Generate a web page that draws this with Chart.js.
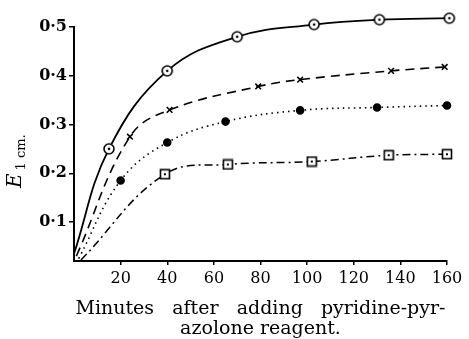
<!DOCTYPE html>
<html>
<head>
<meta charset="utf-8">
<script src="https://cdn.jsdelivr.net/npm/chart.js@4"></script>
<style>
  html, body { margin: 0; padding: 0; background: #fff; }
  canvas { display: block; }
</style>
</head>
<body>
<canvas id="myChart" width="469" height="339"></canvas>
<script>
// minutes / E values, first entry = where each curve starts
const circleX = [0, 15, 40, 70, 103, 131, 161];
const circleY = [0.035, 0.25, 0.41, 0.48, 0.505, 0.515, 0.518];
const crossX = [1, 24, 41, 79, 97, 136, 159];
const crossY = [0.03, 0.275, 0.33, 0.378, 0.392, 0.41, 0.418];
const dotX = [2, 20, 40, 65, 97, 130, 160];
const dotY = [0.025, 0.185, 0.263, 0.306, 0.329, 0.335, 0.339];
const squareX = [3, 39, 66, 102, 135, 160];
const squareY = [0.022, 0.198, 0.218, 0.224, 0.237, 0.239];

const xTicks = [20, 40, 60, 80, 100, 120, 140, 160];
const yTicks = [0.1, 0.2, 0.3, 0.4, 0.5];

const serif = '"DejaVu Serif", "Liberation Serif", serif';

function points(xs, ys) {
  return xs.map((x, i) => ({ x: x, y: ys[i] }));
}

// open circle with a dot in the middle
function ringDot() {
  const c = document.createElement('canvas');
  c.width = c.height = 14;
  const g = c.getContext('2d');
  g.fillStyle = '#fff';
  g.strokeStyle = '#000';
  g.lineWidth = 1.6;
  g.beginPath();
  g.arc(7, 7, 5, 0, 2 * Math.PI);
  g.fill();
  g.stroke();
  g.fillStyle = '#000';
  g.beginPath();
  g.arc(7, 7, 1.3, 0, 2 * Math.PI);
  g.fill();
  return c;
}

function squareDot() {
  const c = document.createElement('canvas');
  c.width = c.height = 12;
  const g = c.getContext('2d');
  g.fillStyle = '#fff';
  g.strokeStyle = '#000';
  g.lineWidth = 1.6;
  g.fillRect(1.5, 1.5, 9, 9);
  g.strokeRect(1.5, 1.5, 9, 9);
  g.fillStyle = '#000';
  g.fillRect(5, 5, 2, 2);
  return c;
}

const ringImg = ringDot();
const squareImg = squareDot();

// no marker on the starting point of each curve
const hideFirst = (r) => (ctx) => ctx.dataIndex === 0 ? 0 : r;

const yTitle = {
  id: 'yTitle',
  afterDraw(chart) {
    const c = chart.ctx;
    c.save();
    c.translate(21, 188);
    c.rotate(-Math.PI / 2);
    c.fillStyle = '#000';
    c.textBaseline = 'alphabetic';
    c.font = 'italic 20px ' + serif;
    c.fillText('E', 0, 0);
    const w = c.measureText('E').width;
    c.font = '13px ' + serif;
    c.fillText('1 cm.', w + 3, 4);
    c.restore();
  }
};

const base = {
  borderColor: '#000',
  backgroundColor: '#000',
  pointBorderColor: '#000',
  fill: false,
  clip: false,
  tension: 0.4,
  pointHoverRadius: 14,
};

const ctx = document.getElementById('myChart').getContext('2d');
const myChart = new Chart(ctx, {
  type: 'line',
  data: {
    datasets: [
      Object.assign({}, base, {
        label: 'circles',
        data: points(circleX, circleY),
        borderWidth: 1.8,
        pointStyle: ringImg,
        pointRadius: hideFirst(5),
      }),
      Object.assign({}, base, {
        label: 'crosses',
        data: points(crossX, crossY),
        borderWidth: 1.6,
        borderDash: [9, 6],
        pointStyle: 'crossRot',
        pointRadius: hideFirst(4),
        pointBorderWidth: 1.6,
      }),
      Object.assign({}, base, {
        label: 'dots',
        data: points(dotX, dotY),
        borderWidth: 1.6,
        borderDash: [1.5, 4],
        pointStyle: 'circle',
        pointRadius: hideFirst(3.5),
        pointBackgroundColor: '#000',
      }),
      Object.assign({}, base, {
        label: 'squares',
        data: points(squareX, squareY),
        borderWidth: 1.5,
        borderDash: [8, 4, 2, 4],
        pointStyle: squareImg,
        pointRadius: hideFirst(5),
      }),
    ]
  },
  options: {
    responsive: false,
    animation: false,
    devicePixelRatio: 1,
    layout: { padding: { left: 30, right: 22, top: 27, bottom: 0 } },
    plugins: {
      legend: { display: false },
      tooltip: { enabled: false },
    },
    scales: {
      x: {
        type: 'linear',
        min: 0,
        max: 160,
        afterBuildTicks: (scale) => {
          scale.ticks = xTicks.map(v => ({ value: v }));
        },
        afterFit: (scale) => { scale.height = 78; },
        border: { color: '#000', width: 2 },
        grid: { drawOnChartArea: false, color: '#000', tickLength: 4, lineWidth: 1.5 },
        ticks: {
          color: '#000',
          padding: 4,
          maxRotation: 0,
          font: { family: serif, size: 16 },
        },
        title: {
          display: true,
          text: ['Minutes   after   adding   pyridine-pyr-', 'azolone reagent.'],
          color: '#000',
          padding: { top: 0, bottom: 0 },
          font: { family: serif, size: 19, lineHeight: 1.05 },
        },
      },
      y: {
        type: 'linear',
        min: 0.02,
        max: 0.5,
        afterBuildTicks: (scale) => {
          scale.ticks = yTicks.map(v => ({ value: v }));
        },
        afterFit: (scale) => { scale.width = 44; },
        border: { color: '#000', width: 2 },
        grid: { drawOnChartArea: false, color: '#000', tickLength: 5, lineWidth: 1.5 },
        ticks: {
          color: '#000',
          padding: 2,
          font: { family: serif, size: 16, weight: 'bold' },
          callback: (v) => v.toFixed(1).replace('.', '·'),
        },
      },
    },
  },
  plugins: [yTitle],
});
</script>
</body>
</html>
